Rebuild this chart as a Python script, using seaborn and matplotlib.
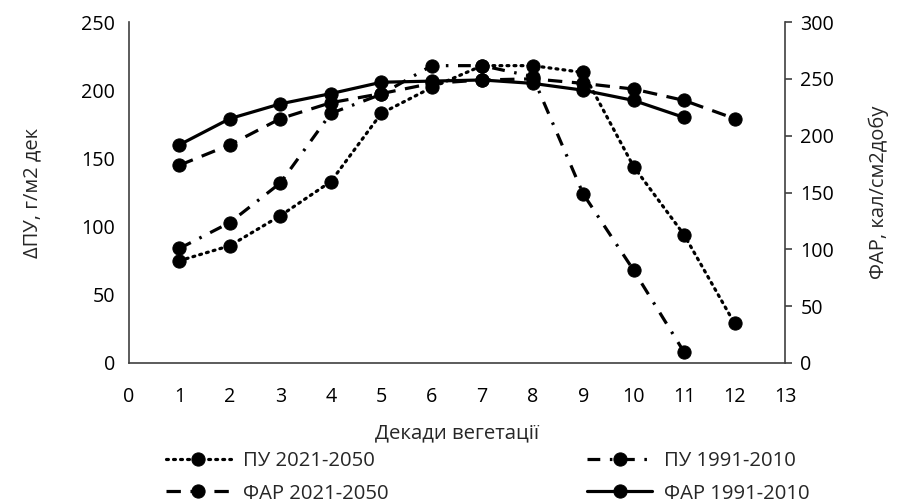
import matplotlib
matplotlib.use("Agg")
import matplotlib.pyplot as plt
import seaborn as sns
import pandas as pd

# ---- data ----
decades_12 = [1, 2, 3, 4, 5, 6, 7, 8, 9, 10, 11, 12]
decades_11 = [1, 2, 3, 4, 5, 6, 7, 8, 9, 10, 11]
pu_2021_2050 = [75, 86, 108, 133, 183, 202, 218, 218, 213, 144, 94, 29]
pu_1991_2010 = [84, 103, 132, 183, 197, 218, 218, 210, 124, 68, 8]
far_2021_2050 = [174, 192, 215, 229, 237, 246, 249, 250, 246, 241, 231, 215]
far_1991_2010 = [192, 215, 228, 237, 247, 248, 249, 246, 240, 231, 216]

labels = ["ПУ 2021-2050", "ПУ 1991-2010", "ФАР 2021-2050", "ФАР 1991-2010"]
x_ticks = list(range(0, 14))
left_ticks = [0, 50, 100, 150, 200, 250]
right_ticks = [0, 50, 100, 150, 200, 250, 300]

sns.set_theme(style="white")
plt.rcParams["font.family"] = ["Open Sans", "DejaVu Sans"]
FS = 14.2

fig = plt.figure(figsize=(9.01, 5.04), dpi=100)
ax = fig.add_axes([129 / 901, 1 - 363 / 504, (785 - 129) / 901, (363 - 22) / 504])
ax2 = ax.twinx()

common = dict(color="black", marker="o", markersize=9.5, linewidth=2.3,
              markeredgecolor="black", markerfacecolor="black")

df1 = pd.DataFrame({"x": decades_12, "y": pu_2021_2050})
df2 = pd.DataFrame({"x": decades_11, "y": pu_1991_2010})
df3 = pd.DataFrame({"x": decades_12, "y": far_2021_2050})
df4 = pd.DataFrame({"x": decades_11, "y": far_1991_2010})

sns.lineplot(data=df1, x="x", y="y", ax=ax, linestyle=(0, (0.6, 1.6)),
             dash_capstyle="round", label=labels[0], legend=False, **common)
sns.lineplot(data=df2, x="x", y="y", ax=ax, linestyle=(0, (4, 3, 0.8, 3)),
             label=labels[1], legend=False, **common)
sns.lineplot(data=df3, x="x", y="y", ax=ax2, linestyle=(0, (4.5, 3)),
             label=labels[2], legend=False, **common)
sns.lineplot(data=df4, x="x", y="y", ax=ax2, linestyle="-",
             label=labels[3], legend=False, **common)

ax.set_xlim(0, 13)
ax.set_ylim(0, 250)
ax2.set_ylim(0, 300)
ax.set_xticks(x_ticks)
ax.set_yticks(left_ticks)
ax2.set_yticks(right_ticks)

for a in (ax, ax2):
    a.grid(False)
    a.spines["top"].set_visible(False)
    for s in ("left", "right", "bottom"):
        a.spines[s].set_color("#404040")
        a.spines[s].set_linewidth(1.2)
ax.spines["right"].set_visible(False)
ax2.spines["left"].set_visible(False)
ax2.spines["bottom"].set_visible(False)

ax.tick_params(axis="y", length=0, pad=10, labelsize=FS, colors="black")
ax.tick_params(axis="x", length=0, pad=17, labelsize=FS, colors="black")
ax2.tick_params(axis="y", right=True, direction="out", length=5, width=1.2,
                color="#404040", pad=6, labelsize=FS, labelcolor="black")

ax.set_xlabel("Декади вегетації", fontsize=FS + 0.5, labelpad=12)
ax.set_ylabel("ΔПУ, г/м2 дек", fontsize=FS + 0.3, labelpad=28)
ax2.set_ylabel("ФАР, кал/см2добу", fontsize=FS + 0.3, labelpad=25)

h1, l1 = ax.get_legend_handles_labels()
h2, l2 = ax2.get_legend_handles_labels()
hd = dict(zip(l1 + l2, h1 + h2))
order = [labels[0], labels[2], labels[1], labels[3]]
fig.legend([hd[k] for k in order], order, loc="upper left",
           bbox_to_anchor=(166 / 901, 1 - 451 / 504), ncol=2, frameon=False,
           fontsize=FS + 0.4, handlelength=3.2, handletextpad=0.6,
           columnspacing=9.8, labelspacing=0.62, borderaxespad=0, borderpad=0)

fig.savefig("out.png", dpi=100)
